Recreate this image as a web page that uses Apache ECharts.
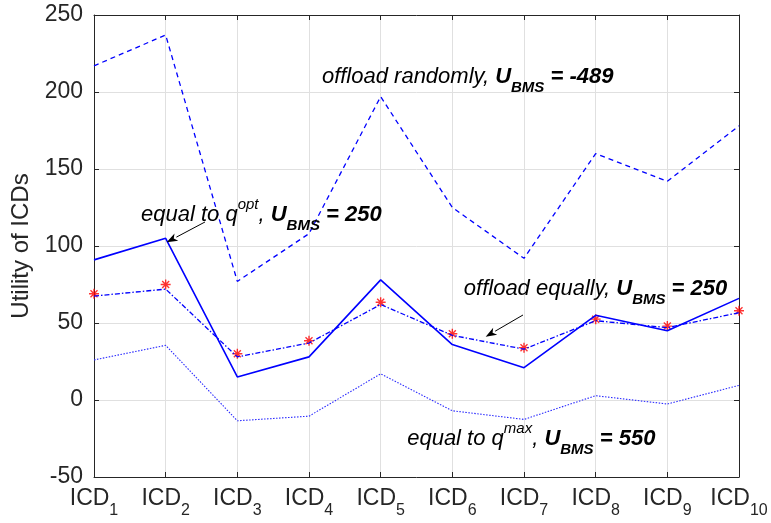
<!DOCTYPE html>
<html><head><meta charset="utf-8">
<script src="https://cdn.jsdelivr.net/npm/echarts@6/dist/echarts.min.js"></script>
<style>html,body{margin:0;padding:0;background:#fff}#c{width:771px;height:523px}</style>
</head><body><div id="c"></div>
<script>
// ---- data ----
const categories = ['1','2','3','4','5','6','7','8','9','10'];
const offloadRandomly = [217, 237, 77, 108, 197, 125, 92, 160, 142, 178];
const equalToQopt    = [91, 105, 15, 28, 78, 36, 21, 55, 45, 66];
const offloadEqually = [67.5, 72, 28, 37, 62, 42, 33, 51.5, 47, 56.7];
const equallyMarkers = [69, 75, 30, 38.5, 63.5, 43, 34, 52.5, 48, 58];
const equalToQmax    = [26, 35.5, -13.5, -10.5, 17, -7, -12.6, 2.8, -2.6, 9.5];
const yMin = -50, yMax = 250, yStep = 50;
const yTitle = 'Utility of ICDs';

// annotations: [x index, y value, text]
const notes = [
  {x: 0.656, y: 120, txt: '{i|equal to q}{sup|opt}{i|, }{b|U}{sub|BMS}{b| = 250}'},
  {x: 3.18,  y: 209.5, txt: '{i|offload randomly, }{b|U}{sub|BMS}{b| = -489}'},
  {x: 5.16,  y: 72, txt: '{i|offload equally, }{b|U}{sub|BMS}{b| = 250}'},
  {x: 4.37,  y: -25.3, txt: '{i|equal to q}{sup|max}{i|, }{b|U}{sub|BMS}{b| = 550}'}
];
const arrows = [
  {from: [1.549, 115.6], to: [1.014, 102.4]},
  {from: [5.986, 55.2],  to: [5.465, 41.1]}
];

const FONT = '"Liberation Sans", Arial, Helvetica, sans-serif';
const AX = '#262626';
const BLUE = '#0000ff';

const chart = echarts.init(document.getElementById('c'), null, {renderer: 'canvas'});

const axisLineCommon = {show: true, onZero: false, lineStyle: {color: AX, width: 1}};
const tickCommon = {show: true, inside: true, length: 5, lineStyle: {color: AX, width: 1}};

const starPath = 'path://M5,0L5,10M0,5L10,5M1.5,1.5L8.5,8.5M1.5,8.5L8.5,1.5';

const option = {
  animation: false,
  backgroundColor: '#fff',
  grid: {left: 94, right: 32, top: 15, bottom: 46, containLabel: false},
  xAxis: [
    {
      type: 'category', data: categories, boundaryGap: false, position: 'bottom',
      axisLine: axisLineCommon, axisTick: Object.assign({alignWithLabel: true, interval: 0}, tickCommon),
      splitLine: {show: true, interval: 0, lineStyle: {color: '#e0e0e0', width: 1}},
      axisLabel: {
        interval: 0, margin: 2, color: AX, fontFamily: FONT,
        formatter: v => '{a|ICD}{b|' + v + '}',
        rich: {
          a: {fontSize: 23, lineHeight: 40, fontFamily: FONT, color: AX},
          b: {fontSize: 16, lineHeight: 12, verticalAlign: 'bottom', fontFamily: FONT, color: AX}
        }
      }
    },
    {
      type: 'category', data: categories, boundaryGap: false, position: 'top',
      axisLine: axisLineCommon, axisTick: Object.assign({interval: 0}, tickCommon),
      axisLabel: {show: false}, splitLine: {show: false}
    }
  ],
  yAxis: [
    {
      type: 'value', min: yMin, max: yMax, interval: yStep, position: 'left',
      axisLine: axisLineCommon, axisTick: tickCommon,
      splitLine: {show: true, lineStyle: {color: '#e0e0e0', width: 1}},
      axisLabel: {fontSize: 23, color: AX, fontFamily: FONT, margin: 11},
      name: yTitle, nameLocation: 'middle', nameGap: 60,
      nameTextStyle: {fontSize: 24, color: AX, fontFamily: FONT}
    },
    {
      type: 'value', min: yMin, max: yMax, interval: yStep, position: 'right',
      axisLine: axisLineCommon, axisTick: tickCommon,
      splitLine: {show: false}, axisLabel: {show: false}
    }
  ],
  series: [
    {name: 'offload randomly', type: 'line', data: offloadRandomly, showSymbol: false, symbol: 'none',
     lineStyle: {color: BLUE, width: 1.3, type: [5, 4]}},
    {name: 'equal to q opt', type: 'line', data: equalToQopt, showSymbol: false, symbol: 'none',
     lineStyle: {color: BLUE, width: 1.6, type: 'solid'}},
    {name: 'offload equally', type: 'line', data: offloadEqually, showSymbol: false, symbol: 'none',
     lineStyle: {color: BLUE, width: 1.3, type: [5, 2, 1.5, 2]}},
    {name: 'equally markers', type: 'scatter', data: equallyMarkers, symbol: starPath, symbolSize: 10,
     itemStyle: {color: 'none', borderColor: '#ff0000', borderWidth: 1.4}},
    {name: 'equal to q max', type: 'line', data: equalToQmax, showSymbol: false, symbol: 'none',
     lineStyle: {color: '#2a2aff', width: 1.1, type: [1.5, 1.5]}}
  ]
};
chart.setOption(option);

function toPx(xi, yv) {
  const a = chart.convertToPixel({xAxisIndex: 0}, 0);
  const b = chart.convertToPixel({xAxisIndex: 0}, 1);
  const px = a + (b - a) * xi;
  const py = chart.convertToPixel({yAxisIndex: 0}, yv);
  return [px, py];
}

const rich = {
  i: {fontSize: 22, fontStyle: 'italic', fontFamily: FONT, color: '#000', lineHeight: 36},
  b: {fontSize: 22, fontStyle: 'italic', fontWeight: 'bold', fontFamily: FONT, color: '#000', lineHeight: 36},
  sup: {fontSize: 15, fontStyle: 'italic', fontFamily: FONT, color: '#000', lineHeight: 25, verticalAlign: 'top'},
  sub: {fontSize: 15, fontStyle: 'italic', fontWeight: 'bold', fontFamily: FONT, color: '#000', lineHeight: 11, verticalAlign: 'bottom'}
};

const graphics = [];
notes.forEach(n => {
  const p = toPx(n.x, n.y);
  graphics.push({type: 'text', x: p[0], y: p[1], z: 100,
    style: {text: n.txt, rich: rich, align: 'left', verticalAlign: 'middle', fontFamily: FONT}});
});
arrows.forEach(a => {
  const p0 = toPx(a.from[0], a.from[1]);
  const p1 = toPx(a.to[0], a.to[1]);
  const dx = p1[0] - p0[0], dy = p1[1] - p0[1];
  const len = Math.sqrt(dx * dx + dy * dy);
  const ux = dx / len, uy = dy / len;
  const hl = 11, hw = 4;
  const bx = p1[0] - ux * hl, by = p1[1] - uy * hl;
  graphics.push({type: 'line', z: 100, shape: {x1: p0[0], y1: p0[1], x2: bx, y2: by},
    style: {stroke: '#000', lineWidth: 1}});
  graphics.push({type: 'polygon', z: 100, shape: {points: [
      [p1[0], p1[1]], [bx - uy * hw, by + ux * hw], [bx + ux * 3, by + uy * 3], [bx + uy * hw, by - ux * hw]]},
    style: {fill: '#000'}});
});
chart.setOption({graphic: graphics});
</script>
</body></html>
